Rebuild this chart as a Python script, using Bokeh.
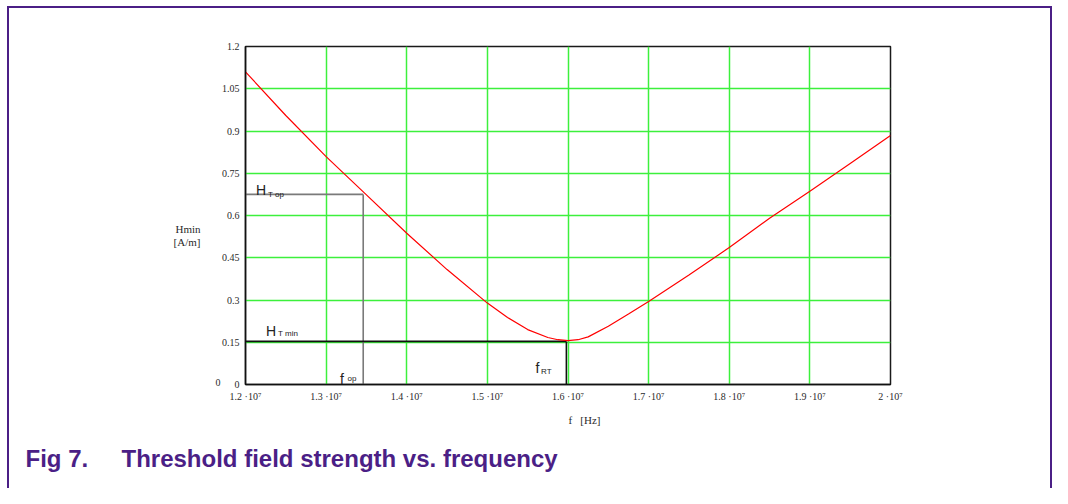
from bokeh.plotting import figure
from bokeh.models import Label, FixedTicker, Range1d, LinearAxis, Title
from bokeh.embed import file_html
from bokeh.resources import INLINE

# ---------------- data ----------------
freq_hz = [1.20e7, 1.25e7, 1.30e7, 1.35e7, 1.40e7, 1.45e7, 1.50e7, 1.525e7, 1.55e7,
           1.575e7, 1.5875e7, 1.60e7, 1.6125e7, 1.625e7, 1.65e7, 1.675e7, 1.70e7,
           1.75e7, 1.80e7, 1.85e7, 1.90e7, 1.95e7, 2.00e7]
hmin_am = [1.110, 0.955, 0.809, 0.673, 0.537, 0.408, 0.289, 0.238, 0.195,
           0.167, 0.159, 0.156, 0.159, 0.169, 0.207, 0.250, 0.295,
           0.389, 0.486, 0.590, 0.686, 0.785, 0.884]

f_op = 1.346e7
h_t_op = 0.675
f_rt = 1.598e7
h_t_min = 0.153

x_ticks = [1.2e7, 1.3e7, 1.4e7, 1.5e7, 1.6e7, 1.7e7, 1.8e7, 1.9e7, 2.0e7]
x_tick_labels = ["1.2 \u00b710\u2077", "1.3 \u00b710\u2077", "1.4 \u00b710\u2077",
                 "1.5 \u00b710\u2077", "1.6 \u00b710\u2077", "1.7 \u00b710\u2077",
                 "1.8 \u00b710\u2077", "1.9 \u00b710\u2077", "2 \u00b710\u2077"]
y_ticks = [0.0, 0.15, 0.3, 0.45, 0.6, 0.75, 0.9, 1.05, 1.2]
y_tick_labels = ["0", "0.15", "0.3", "0.45", "0.6", "0.75", "0.9", "1.05", "1.2"]
outer_y_tick = [0.006]
outer_y_label = ["0"]

# ---------------- layout ----------------
W, H = 1052, 488
FL, FR, FT, FB = 245, 890, 46, 384   # frame edges in canvas px
X0, X1, Y0, Y1 = 1.2e7, 2.0e7, 0.0, 1.2
PURPLE = "#4b1f86"

bg = ", ".join([
    f"linear-gradient({PURPLE},{PURPLE}) 7px 6px / 1046px 2px no-repeat",
    f"linear-gradient({PURPLE},{PURPLE}) 7px 6px / 2px 490px no-repeat",
    f"linear-gradient({PURPLE},{PURPLE}) 1050px 6px / 2px 490px no-repeat",
    "white",
])

p = figure(width=W, height=H, output_backend="svg", toolbar_location=None,
           x_range=Range1d(X0, X1), y_range=Range1d(Y0, Y1),
           min_border_left=FL, min_border_right=W - FR,
           min_border_top=FT, min_border_bottom=H - FB,
           styles={"background": bg})
p.background_fill_color = "white"
p.border_fill_alpha = 0
p.outline_line_color = "#1a1a1a"
p.outline_line_width = 1.5


def pos(xp, yp):
    """canvas pixel -> data coordinates (for in-frame annotation placement)"""
    x = X0 + (xp - FL) / (FR - FL) * (X1 - X0)
    y = Y0 + (FB - yp) / (FB - FT) * (Y1 - Y0)
    return x, y


# grids
p.xgrid.ticker = FixedTicker(ticks=x_ticks)
p.ygrid.ticker = FixedTicker(ticks=y_ticks)
for g in (p.xgrid, p.ygrid):
    g.grid_line_color = "#3cf03c"
    g.grid_line_width = 1.5

# axes
for ax in (p.xaxis, p.yaxis):
    ax.axis_line_color = "#111111"
    ax.axis_line_width = 1.5
    ax.major_tick_line_color = None
    ax.minor_tick_line_color = None
    ax.major_tick_out = 0
    ax.major_tick_in = 0
    ax.major_label_text_font = "Liberation Serif"
    ax.major_label_text_font_size = "10px"
    ax.major_label_text_color = "#2a2a2a"
    ax.major_label_standoff = 6
p.xaxis.ticker = FixedTicker(ticks=x_ticks)
p.yaxis.ticker = FixedTicker(ticks=y_ticks)
p.xaxis.major_label_overrides = {int(t): s for t, s in zip(x_ticks, x_tick_labels)}
p.yaxis.major_label_overrides = {t: s for t, s in zip(y_ticks, y_tick_labels)}

p.xaxis.axis_label = "\u00a0" * 12 + "f\u00a0\u00a0\u00a0[Hz]"
p.xaxis.axis_label_text_font = "Liberation Serif"
p.xaxis.axis_label_text_font_size = "11px"
p.xaxis.axis_label_text_font_style = "normal"
p.xaxis.axis_label_text_color = "#2a2a2a"
p.xaxis.axis_label_standoff = 9

# outer left axis: the stray "0" and the y title
outer = LinearAxis(ticker=FixedTicker(ticks=outer_y_tick),
                   major_label_overrides={t: s for t, s in zip(outer_y_tick, outer_y_label)})
outer.axis_line_color = None
outer.major_tick_line_color = None
outer.minor_tick_line_color = None
outer.major_tick_out = 0
outer.major_tick_in = 0
outer.major_label_standoff = -2
outer.major_label_text_font = "Liberation Serif"
outer.major_label_text_font_size = "10px"
outer.major_label_text_color = "#2a2a2a"
outer.axis_label = "\n\n\nHmin\n[A/m]"
outer.axis_label_text_font = "Liberation Serif"
outer.axis_label_text_font_size = "11px"
outer.axis_label_text_font_style = "normal"
outer.axis_label_text_color = "#2a2a2a"
outer.axis_label_text_line_height = 1.1
outer.axis_label_standoff = 12
try:
    outer.axis_label_orientation = "horizontal"
except Exception:
    pass
p.add_layout(outer, "left")

# reference lines
p.line([X0, f_op], [h_t_op, h_t_op], line_color="#7a7a7a", line_width=1.6)
p.line([f_op, f_op], [Y0, h_t_op], line_color="#7a7a7a", line_width=1.6)
p.line([X0, f_rt], [h_t_min, h_t_min], line_color="#111111", line_width=1.6)
p.line([f_rt, f_rt], [Y0, h_t_min], line_color="#111111", line_width=1.6)

# curve
p.line(freq_hz, hmin_am, line_color="#ff0000", line_width=1.2)


def lab(text, xp, yp, size, font="Liberation Sans", align="left",
        baseline="alphabetic", color="#222222", style="normal"):
    x, y = pos(xp, yp)
    p.add_layout(Label(x=x, y=y, text=text, text_font=font, text_font_size=size,
                       text_align=align, text_baseline=baseline, text_color=color,
                       text_font_style=style))


# in-plot labels
lab("H", 255.5, 189.5, "14px")
lab("T op", 267.5, 193.5, "8px")
lab("H", 265.5, 330.5, "14px")
lab("T min", 277.5, 333, "8px")
lab("f", 339.5, 378, "14px")
lab("op", 347, 378, "8px")
lab("f", 535, 367, "14px")
lab("RT", 540.5, 370.5, "8px")

# caption
cap = Title(text="Fig 7.\u00a0\u00a0\u00a0\u00a0\u00a0Threshold field strength vs. frequency",
            align="left", offset=-(FL - 25), text_font="Liberation Sans",
            text_font_size="24px", text_font_style="bold", text_color=PURPLE,
            standoff=29)
p.add_layout(cap, "below")

open("out.html", "w").write(file_html(p, INLINE))
